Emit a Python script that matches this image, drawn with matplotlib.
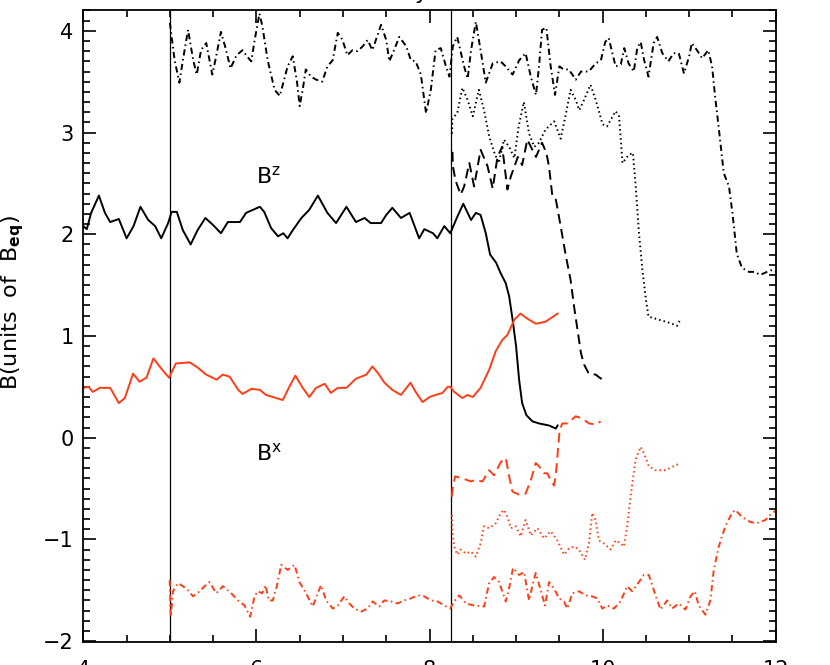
import matplotlib
matplotlib.use("Agg")
import matplotlib.pyplot as plt
from matplotlib.ticker import MultipleLocator

plt.rcParams['font.family'] = ['DejaVu Sans']
plt.rcParams['lines.scale_dashes'] = False

# --- data (x in time units, y in units of B_eq) ---
# Bz, solid
bz_solid_x = [4.00, 4.04, 4.09, 4.18, 4.25, 4.31, 4.41, 4.50, 4.58, 4.66, 4.75, 4.83, 4.90, 4.98, 5.02,
              5.08, 5.15, 5.24, 5.32, 5.41, 5.50, 5.59, 5.67, 5.75, 5.81, 5.88, 6.04, 6.09, 6.17, 6.25,
              6.31, 6.36, 6.42, 6.52, 6.61, 6.71, 6.82, 6.92, 7.04, 7.15, 7.25, 7.32, 7.44, 7.50, 7.57,
              7.67, 7.77, 7.88, 7.94, 8.04, 8.09, 8.17, 8.24, 8.32, 8.39, 8.48, 8.535, 8.59, 8.65, 8.70,
              8.77, 8.82, 8.88, 8.92, 8.96, 9.00, 9.035, 9.07, 9.12, 9.19, 9.265, 9.38, 9.46, 9.48]
bz_solid_y = [2.08, 2.05, 2.21, 2.38, 2.21, 2.12, 2.15, 1.96, 2.08, 2.27, 2.14, 2.08, 1.96, 2.11, 2.22,
              2.22, 2.04, 1.90, 2.04, 2.16, 2.09, 2.01, 2.12, 2.12, 2.12, 2.21, 2.27, 2.22, 2.06, 1.98,
              2.01, 1.96, 2.04, 2.16, 2.24, 2.38, 2.21, 2.11, 2.27, 2.12, 2.16, 2.11, 2.11, 2.19, 2.26,
              2.16, 2.21, 1.96, 2.05, 2.01, 1.96, 2.08, 2.01, 2.17, 2.30, 2.14, 2.21, 2.19, 2.01, 1.80,
              1.72, 1.62, 1.52, 1.39, 1.16, 0.90, 0.57, 0.34, 0.22, 0.16, 0.14, 0.12, 0.09, 0.12]

# Bz, dashed
bz_dash_x = [8.265, 8.27, 8.30, 8.36, 8.40, 8.46, 8.515, 8.59, 8.67, 8.73, 8.785, 8.84, 8.90, 8.94, 9.02,
             9.07, 9.13, 9.23, 9.30, 9.35, 9.38, 9.42, 9.46, 9.515, 9.57, 9.63, 9.67, 9.71, 9.75, 9.785,
             9.84, 9.92, 9.98, 9.99]
bz_dash_y = [2.81, 2.67, 2.53, 2.39, 2.47, 2.70, 2.47, 2.83, 2.67, 2.45, 2.76, 2.86, 2.44, 2.57, 2.76,
             2.68, 2.93, 2.76, 2.90, 2.80, 2.67, 2.37, 2.34, 2.08, 1.81, 1.55, 1.29, 1.06, 0.83, 0.72,
             0.63, 0.62, 0.58, 0.60]

# Bz, dotted
bz_dot_x = [8.26, 8.265, 8.32, 8.38, 8.44, 8.50, 8.57, 8.63, 8.69, 8.75, 8.80, 8.86, 8.92, 8.98, 9.03,
            9.09, 9.15, 9.21, 9.265, 9.34, 9.44, 9.515, 9.57, 9.63, 9.69, 9.73, 9.785, 9.86, 9.92, 10.0,
            10.05, 10.15, 10.19, 10.23, 10.30, 10.35, 10.38, 10.42, 10.46, 10.50, 10.53, 10.65, 10.77,
            10.86, 10.89]
bz_dot_y = [2.99, 3.14, 3.19, 3.44, 3.32, 3.16, 3.42, 3.22, 2.96, 2.80, 2.70, 2.93, 2.86, 2.75, 3.06,
            3.30, 2.99, 2.86, 2.90, 3.03, 3.11, 2.94, 3.16, 3.42, 3.32, 3.22, 3.32, 3.47, 3.32, 3.08,
            3.06, 3.21, 3.16, 2.70, 2.78, 2.80, 2.50, 2.01, 1.65, 1.36, 1.19, 1.16, 1.13, 1.10, 1.15]

# Bz, dash-dot
bz_dashdot_x = [5.00, 5.01, 5.055, 5.11, 5.15, 5.21, 5.27, 5.31, 5.36, 5.42, 5.49, 5.535, 5.59, 5.65, 5.70,
                5.77, 5.84, 5.89, 5.94, 5.98, 6.035, 6.07, 6.13, 6.21, 6.27, 6.32, 6.36, 6.42, 6.47, 6.50,
                6.54, 6.57, 6.63, 6.69, 6.76, 6.82, 6.88, 6.94, 6.995, 7.05, 7.11, 7.17, 7.23, 7.285, 7.34,
                7.38, 7.44, 7.50, 7.535, 7.59, 7.65, 7.73, 7.785, 7.84, 7.90, 7.96, 8.015, 8.07, 8.13, 8.19,
                8.23, 8.27, 8.32, 8.40, 8.44, 8.48, 8.535, 8.59, 8.65, 8.73, 8.82, 8.88, 8.96, 9.035, 9.11,
                9.17, 9.23, 9.265, 9.30, 9.35, 9.40, 9.45, 9.50, 9.55, 9.61, 9.69, 9.75, 9.84, 9.92, 9.98,
                10.03, 10.07, 10.15, 10.21, 10.25, 10.30, 10.36, 10.40, 10.44, 10.48, 10.53, 10.59, 10.63,
                10.69, 10.76, 10.82, 10.88, 10.94, 11.0, 11.03, 11.09, 11.15, 11.22, 11.265, 11.30, 11.34,
                11.40, 11.46, 11.50, 11.55, 11.61, 11.69, 11.76, 11.82, 11.90, 11.96, 12.0]
bz_dashdot_y = [4.08, 4.01, 3.71, 3.49, 3.71, 4.01, 3.71, 3.57, 3.81, 3.88, 3.57, 3.75, 3.99, 3.81, 3.63,
                3.76, 3.81, 3.75, 3.70, 3.91, 4.17, 4.04, 3.71, 3.42, 3.36, 3.52, 3.65, 3.75, 3.49, 3.26,
                3.45, 3.62, 3.55, 3.52, 3.50, 3.65, 3.71, 3.98, 3.91, 3.76, 3.81, 3.80, 3.85, 3.91, 3.81,
                3.91, 4.06, 3.91, 3.70, 3.81, 3.94, 3.85, 3.71, 3.70, 3.57, 3.19, 3.42, 3.81, 3.83, 3.65,
                3.55, 3.85, 3.94, 3.65, 3.53, 3.81, 4.09, 3.81, 3.49, 3.68, 3.70, 3.65, 3.57, 3.71, 3.78,
                3.55, 3.37, 3.65, 4.01, 4.03, 3.65, 3.37, 3.65, 3.62, 3.62, 3.52, 3.60, 3.60, 3.68, 3.71,
                3.89, 3.93, 3.65, 3.67, 3.83, 3.68, 3.60, 3.83, 3.89, 3.71, 3.55, 3.88, 3.94,
                3.78, 3.70, 3.78, 3.78, 3.58, 3.75, 3.88, 3.81, 3.73, 3.81, 3.65, 3.35, 3.06,
                2.60, 2.47, 2.21, 1.81, 1.67, 1.63, 1.63, 1.60, 1.63, 1.65, 1.63]

# Bx, solid
bx_solid_x = [4.00, 4.06, 4.11, 4.19, 4.31, 4.41, 4.48, 4.575, 4.65, 4.73, 4.81, 4.90, 4.99, 5.07, 5.23,
              5.32, 5.42, 5.54, 5.61, 5.69, 5.79, 5.84, 5.94, 6.04, 6.11, 6.19, 6.305, 6.38, 6.45, 6.535,
              6.61, 6.69, 6.79, 6.86, 6.94, 7.04, 7.15, 7.27, 7.34, 7.40, 7.48, 7.57, 7.67, 7.78, 7.84,
              7.92, 8.00, 8.07, 8.15, 8.21, 8.24, 8.285, 8.38, 8.44, 8.50, 8.59, 8.69, 8.765, 8.84, 8.90,
              8.98, 9.05, 9.13, 9.23, 9.34, 9.48]
bx_solid_y = [0.49, 0.50, 0.45, 0.49, 0.49, 0.34, 0.39, 0.63, 0.55, 0.59, 0.78, 0.68, 0.59, 0.73, 0.74,
              0.69, 0.62, 0.57, 0.62, 0.60, 0.47, 0.43, 0.48, 0.47, 0.42, 0.40, 0.37, 0.50, 0.61, 0.49,
              0.40, 0.49, 0.53, 0.44, 0.49, 0.49, 0.58, 0.62, 0.70, 0.64, 0.54, 0.47, 0.42, 0.54, 0.45,
              0.35, 0.40, 0.42, 0.44, 0.50, 0.50, 0.45, 0.39, 0.42, 0.40, 0.49, 0.67, 0.85, 0.96, 1.01,
              1.16, 1.22, 1.17, 1.12, 1.14, 1.22]

# Bx, dashed
bx_dash_x = [8.258, 8.266, 8.296, 8.38, 8.477, 8.516, 8.612, 8.689, 8.746, 8.823, 8.881, 8.92, 8.958,
             9.035, 9.11, 9.17, 9.227, 9.265, 9.323, 9.362, 9.40, 9.438, 9.458, 9.477, 9.504, 9.535,
             9.592, 9.688, 9.765, 9.842, 9.919, 9.977]
bx_dash_y = [-0.58, -0.51, -0.38, -0.40, -0.43, -0.42, -0.43, -0.32, -0.37, -0.24, -0.20, -0.38, -0.53,
             -0.56, -0.55, -0.42, -0.25, -0.28, -0.35, -0.35, -0.42, -0.47, -0.38, -0.19, 0.08, 0.14,
             0.14, 0.21, 0.19, 0.14, 0.13, 0.16]

# Bx, dotted
bx_dot_x = [8.258, 8.266, 8.285, 8.32, 8.36, 8.42, 8.477, 8.535, 8.59, 8.63, 8.689, 8.766, 8.823, 8.862,
            8.90, 8.94, 8.996, 9.054, 9.11, 9.17, 9.246, 9.323, 9.40, 9.477, 9.554, 9.611, 9.669, 9.727,
            9.796, 9.842, 9.88, 9.919, 9.957, 10.015, 10.092, 10.15, 10.207, 10.246, 10.284, 10.323,
            10.38, 10.438, 10.476, 10.534, 10.611, 10.726, 10.822, 10.90]
bx_dot_y = [-0.76, -0.94, -1.07, -1.15, -1.10, -1.14, -1.12, -1.17, -1.04, -0.87, -0.89, -0.84, -0.74,
            -0.71, -0.78, -0.89, -0.87, -0.97, -0.81, -0.96, -0.89, -0.99, -0.92, -1.01, -1.15, -1.09,
            -1.07, -1.10, -1.20, -1.04, -0.74, -0.81, -1.01, -1.04, -1.10, -1.01, -1.04, -1.07, -0.87,
            -0.58, -0.22, -0.09, -0.15, -0.28, -0.32, -0.32, -0.28, -0.25]

# Bx, dash-dot
bx_dashdot_x = [4.998, 5.01, 5.036, 5.094, 5.151, 5.209, 5.267, 5.344, 5.402, 5.459, 5.536, 5.613, 5.709,
                5.786, 5.863, 5.928, 5.978, 6.017, 6.066, 6.105, 6.143, 6.19, 6.236, 6.286, 6.362, 6.44,
                6.497, 6.574, 6.651, 6.708, 6.747, 6.805, 6.882, 6.94, 7.016, 7.074, 7.131, 7.208, 7.285,
                7.343, 7.42, 7.477, 7.554, 7.631, 7.708, 7.785, 7.862, 7.939, 8.016, 8.093, 8.17, 8.239,
                8.285, 8.343, 8.42, 8.516, 8.631, 8.689, 8.746, 8.804, 8.881, 8.92, 8.965, 9.035, 9.092,
                9.15, 9.188, 9.227, 9.285, 9.335, 9.381, 9.438, 9.496, 9.554, 9.592, 9.65, 9.727, 9.804,
                9.88, 9.938, 9.996, 10.054, 10.131, 10.207, 10.284, 10.342, 10.419, 10.476, 10.534,
                10.592, 10.669, 10.746, 10.803, 10.88, 10.957, 11.015, 11.065, 11.111, 11.188, 11.245,
                11.284, 11.342, 11.418, 11.495, 11.534, 11.611, 11.707, 11.784, 11.88, 11.957, 12.0]
bx_dashdot_y = [-1.40, -1.76, -1.51, -1.43, -1.46, -1.50, -1.56, -1.51, -1.46, -1.42, -1.53, -1.46, -1.53,
                -1.60, -1.65, -1.76, -1.56, -1.51, -1.53, -1.45, -1.60, -1.60, -1.46, -1.25, -1.30, -1.25,
                -1.42, -1.53, -1.66, -1.53, -1.45, -1.60, -1.68, -1.65, -1.56, -1.63, -1.68, -1.71, -1.68,
                -1.61, -1.66, -1.60, -1.61, -1.63, -1.60, -1.58, -1.55, -1.56, -1.60, -1.61, -1.65, -1.68,
                -1.61, -1.55, -1.63, -1.65, -1.66, -1.43, -1.37, -1.42, -1.61, -1.48, -1.28, -1.35, -1.32,
                -1.60, -1.46, -1.33, -1.50, -1.65, -1.42, -1.48, -1.58, -1.61, -1.68, -1.53, -1.51, -1.55,
                -1.56, -1.58, -1.68, -1.65, -1.68, -1.61, -1.46, -1.51, -1.42, -1.35, -1.35,
                -1.50, -1.69, -1.60, -1.68, -1.63, -1.69, -1.56, -1.51, -1.65, -1.74, -1.60,
                -1.30, -1.07, -0.87, -0.74, -0.71, -0.78, -0.83, -0.84, -0.81, -0.74, -0.72]

# times of the two vertical markers
t_marks = [5.0, 8.25]

red = '#ff3d14'
dashed = (0, (7, 4))
dotted = (0, (1.1, 2.2))
dashdot = (0, (4.5, 2.5, 1.1, 2.5))
lw = 1.4

fig = plt.figure(figsize=(8.3, 6.65), dpi=100)
ax = fig.add_axes([0.1004, 0.0341, 0.8342, 0.9509])

for t in t_marks:
    ax.axvline(t, color='black', lw=0.9)

ax.plot(bz_solid_x, bz_solid_y, color='black', lw=lw, ls='-')
ax.plot(bz_dash_x, bz_dash_y, color='black', lw=lw, ls=dashed)
ax.plot(bz_dot_x, bz_dot_y, color='black', lw=lw, ls=dotted)
ax.plot(bz_dashdot_x, bz_dashdot_y, color='black', lw=lw, ls=dashdot)

ax.plot(bx_solid_x, bx_solid_y, color=red, lw=lw, ls='-')
ax.plot(bx_dash_x, bx_dash_y, color=red, lw=lw, ls=dashed)
ax.plot(bx_dot_x, bx_dot_y, color=red, lw=lw, ls=dotted)
ax.plot(bx_dashdot_x, bx_dashdot_y, color=red, lw=lw, ls=dashdot)

ax.text(6.0, 2.5, r'B$^{\mathrm{z}}$', fontsize=16, ha='left', va='baseline')
ax.text(6.0, -0.22, r'B$^{\mathrm{x}}$', fontsize=16, ha='left', va='baseline')

ax.set_xlim(4, 12)
ax.set_ylim(-2.012, 4.205)
ax.xaxis.set_major_locator(MultipleLocator(2))
ax.xaxis.set_minor_locator(MultipleLocator(0.5))
ax.yaxis.set_major_locator(MultipleLocator(1))
ax.yaxis.set_minor_locator(MultipleLocator(0.1))

ax.tick_params(which='both', direction='in', top=True, right=True, width=1.2, labelsize=15)
ax.tick_params(which='major', length=9.5)
ax.tick_params(which='minor', length=4.8)
ax.tick_params(axis='x', pad=12.5)
ax.tick_params(axis='y', pad=7)
for sp in ax.spines.values():
    sp.set_linewidth(1.3)

ax.set_ylabel(r'B(units  of  B$_{\mathbf{eq}}$)', fontsize=16)
ax.yaxis.set_label_coords(-0.083, 0.537)

# title is cropped off at the top of the frame, only the tail of its "y" shows
fig.text(421 / 830, 1 + 1 / 665, 'y', fontsize=16, ha='center', va='baseline')

fig.savefig('out.png', dpi=100)
